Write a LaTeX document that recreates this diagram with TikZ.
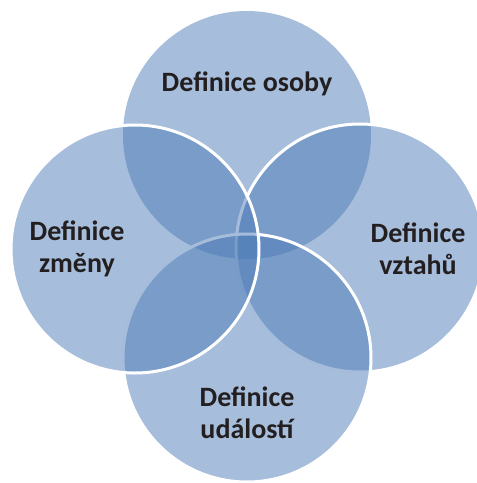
\documentclass[tikz,border=0pt]{standalone}
\usepackage{fontspec}
\setmainfont{Carlito}
\definecolor{vennblue}{HTML}{4D7BB7}
\definecolor{venntext}{HTML}{231F20}
\tikzset{
  venn/.style={circle, minimum size=248pt, inner sep=0pt, fill=vennblue,
    fill opacity=0.5, draw=white, line width=3pt, draw opacity=1},
  label text/.style={font=\fontsize{28}{32}\selectfont\bfseries, text=venntext,
    align=center, inner sep=0pt}
}
\begin{document}
\begin{tikzpicture}[x=1pt, y=-1pt]
      \useasboundingbox (0,0) rectangle (477,483);
      \node[venn, draw=none] (osoby) at (247,135) {};
      \node[venn] (vztahu) at (360,248) {};
      \node[venn] (udalosti) at (247,358) {};
      \node[venn] (zmeny) at (135,249) {};
      \begin{scope}[every node/.style={label text}]
        \node (t-osoby) at (247,84) {Definice osoby};
        \node (t-vztahu) at (418,249) {Definice\\vztahů};
        \node (t-udalosti) at (247,413) {Definice\\událostí};
        \node (t-zmeny) at (77,249) {Definice\\změny};
      \end{scope}
    \end{tikzpicture}
\end{document}
